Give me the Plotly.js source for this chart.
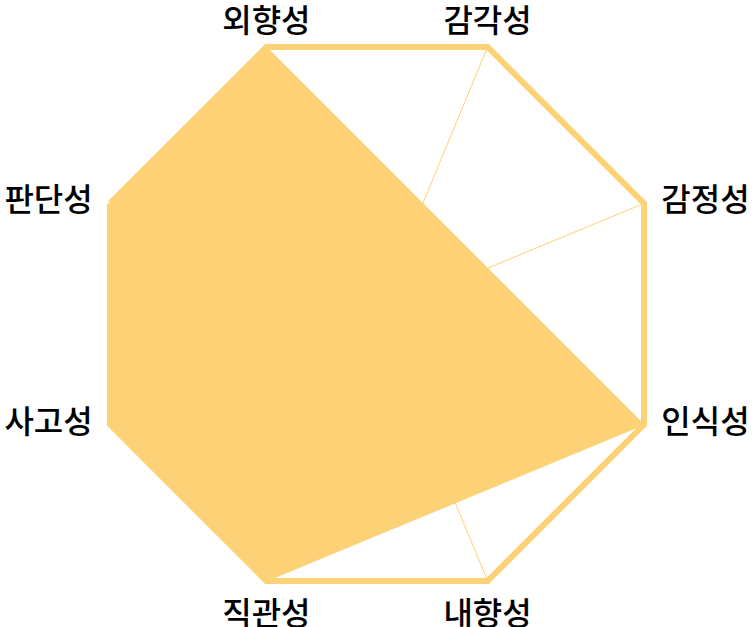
<!DOCTYPE html>
<html>
<head>
<meta charset="utf-8">
<script src="https://cdn.plot.ly/plotly-3.0.1.min.js"></script>
<style>html,body{margin:0;padding:0;background:#fff;}#chart{width:754px;height:627px;}</style>
</head>
<body>
<div id="chart"></div>
<script>
const categories = ['외향성', '감각성', '감정성', '인식성', '내향성', '직관성', '사고성', '판단성'];
const scores = [1, null, null, 1, null, 1, 1, 1];
const maxScore = 1;
const labelPositions = ['top center', 'top center', 'middle right', 'middle right',
                        'bottom center', 'bottom center', 'middle left', 'middle left'];
const labelGaps = [10, 10, 26, 26, 30, 30, 26, 26];

const fillColor = 'rgb(253,209,118)';
const labelFont = {family: '"Noto Sans CJK KR", sans-serif', size: 32, color: '#000', weight: 500};

const trace = {
  type: 'scatterpolar',
  theta: categories.concat([categories[0]]),
  r: scores.concat([scores[0]]),
  mode: 'lines',
  connectgaps: true,
  fill: 'toself',
  fillcolor: fillColor,
  line: {color: fillColor, width: 1},
  hoverinfo: 'skip'
};

const labels = {
  type: 'scatterpolar',
  theta: categories,
  r: categories.map(() => maxScore),
  mode: 'markers+text',
  text: categories,
  textposition: labelPositions,
  textfont: labelFont,
  marker: {size: labelGaps, opacity: 0},
  cliponaxis: false,
  hoverinfo: 'skip'
};

const layout = {
  width: 754,
  height: 627,
  margin: {t: 25, b: 24, l: 80, r: 80},
  paper_bgcolor: '#fff',
  plot_bgcolor: '#fff',
  showlegend: false,
  font: labelFont,
  polar: {
    bgcolor: '#fff',
    gridshape: 'linear',
    radialaxis: {
      range: [0, maxScore],
      showticklabels: false,
      showline: false,
      showgrid: false,
      ticks: ''
    },
    angularaxis: {
      rotation: 112.5,
      direction: 'clockwise',
      showline: true,
      linecolor: fillColor,
      linewidth: 6,
      gridcolor: fillColor,
      gridwidth: 1,
      ticks: '',
      showticklabels: false
    }
  }
};

Plotly.newPlot('chart', [trace, labels], layout, {displayModeBar: false, staticPlot: true});
</script>
</body>
</html>
